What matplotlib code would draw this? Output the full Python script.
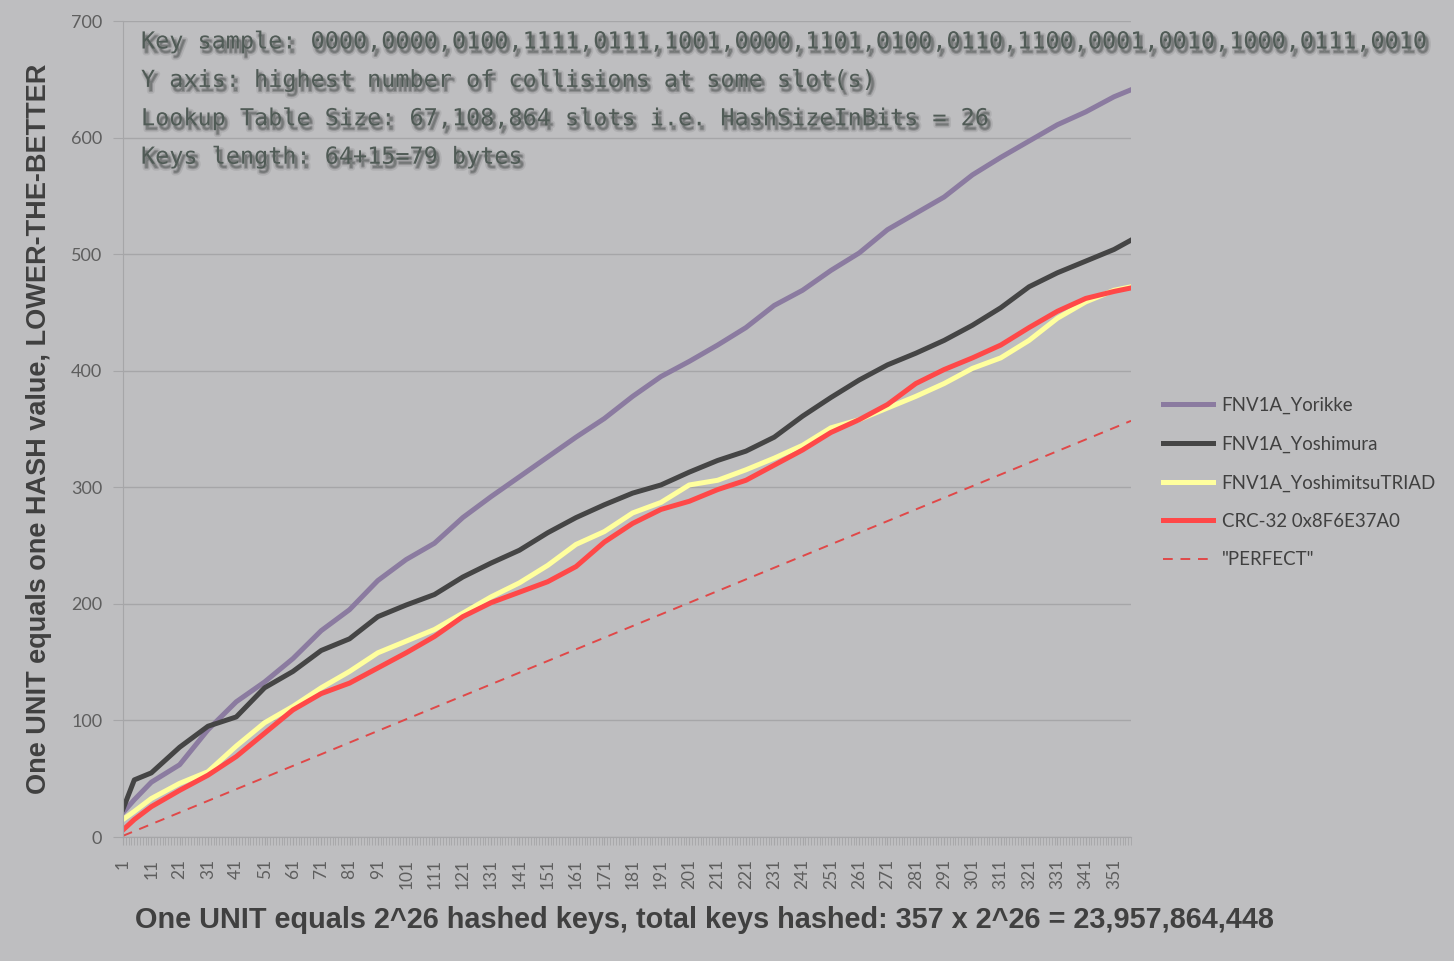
import matplotlib
matplotlib.use("Agg")
import matplotlib.pyplot as plt
import matplotlib.patheffects as pe
from matplotlib.ticker import FixedLocator, MultipleLocator

# sampled categories (every 10th unit plus a couple of extra points)
cats = [1, 5, 11, 21, 31, 41, 51, 61, 71, 81, 91, 101, 111, 121, 131, 141, 151, 161, 171,
        181, 191, 201, 211, 221, 231, 241, 251, 261, 271, 281, 291, 301, 311, 321, 331,
        341, 351, 357]

yorikke = [21, 32, 47, 62, 92, 116, 133, 153, 177, 195, 220, 238, 252, 274, 292, 309, 326,
           343, 359, 378, 395, 408, 422, 437, 456, 469, 486, 501, 521, 535, 549, 568, 583,
           597, 611, 622, 635, 641]
yoshimura = [24, 49, 55, 77, 95, 103, 128, 142, 160, 170, 189, 199, 208, 223, 235, 246, 261,
             274, 285, 295, 302, 313, 323, 331, 343, 361, 377, 392, 405, 415, 426, 439, 454,
             472, 484, 494, 504, 512]
yoshimitsu = [15, 22, 33, 46, 56, 78, 98, 112, 128, 142, 158, 168, 178, 192, 206, 218, 233,
              251, 262, 278, 287, 302, 306, 315, 325, 336, 351, 358, 368, 378, 389, 402, 411,
              426, 445, 459, 469, 472]
crc32 = [6, 15, 26, 40, 53, 69, 89, 109, 123, 132, 145, 158, 172, 189, 201, 210, 219, 232,
         253, 269, 281, 288, 298, 306, 319, 332, 347, 358, 371, 389, 401, 411, 422, 437, 451,
         462, 468, 471]

# "PERFECT": one collision level per unit
perfect_x = [1, 357]
perfect_y = [1, 357]

x_tick_labels = [str(v) for v in range(1, 358, 10)]

notes = [
    "Key sample: 0000,0000,0100,1111,0111,1001,0000,1101,0100,0110,1100,0001,0010,1000,0111,0010",
    "Y axis: highest number of collisions at some slot(s)",
    "Lookup Table Size: 67,108,864 slots i.e. HashSizeInBits = 26",
    "Keys length: 64+15=79 bytes",
]

bg = "#BEBEC0"
grid_c = "#A6A6A8"
tick_c = "#5E5E5E"
title_c = "#404040"

plt.rcParams["font.family"] = ["Lato", "DejaVu Sans"]

fig = plt.figure(figsize=(14.54, 9.61), dpi=100, facecolor=bg)
ax = fig.add_axes([123 / 1454, 1 - 837 / 961, (1131 - 123) / 1454, (837 - 21) / 961])
ax.set_facecolor(bg)

ax.plot(cats, yorikke, color="#8B7BA0", lw=3.6, label="FNV1A_Yorikke", solid_joinstyle="round")
ax.plot(cats, yoshimura, color="#454545", lw=3.6, label="FNV1A_Yoshimura", solid_joinstyle="round")
ax.plot(cats, yoshimitsu, color="#FFFF9E", lw=3.6, label="FNV1A_YoshimitsuTRIAD", solid_joinstyle="round")
ax.plot(cats, crc32, color="#FF4848", lw=3.6, label="CRC-32 0x8F6E37A0", solid_joinstyle="round")
ax.plot(perfect_x, perfect_y, color="#E04848", lw=1.4, ls=(0, (5, 4)), label='"PERFECT"')

ax.set_xlim(1, 357)
ax.set_ylim(0, 700)
ax.yaxis.set_major_locator(MultipleLocator(100))
ax.grid(axis="y", color=grid_c, lw=1)
ax.set_axisbelow(True)

for s in ["top", "right"]:
    ax.spines[s].set_visible(False)
ax.spines["left"].set_color(grid_c)
ax.spines["bottom"].set_color(grid_c)

ax.xaxis.set_major_locator(FixedLocator(list(range(1, 358, 10))))
ax.xaxis.set_minor_locator(MultipleLocator(1))
ax.set_xticklabels(x_tick_labels, rotation=90)
ax.tick_params(axis="x", which="both", length=6, color=grid_c, labelsize=12.5,
               labelcolor=tick_c, pad=10)
ax.tick_params(axis="y", length=7, color=grid_c, labelsize=13, labelcolor=tick_c, pad=8)

ax.set_ylabel("One UNIT equals one HASH value, LOWER-THE-BETTER", fontsize=19.5,
              fontweight="bold", color=title_c, family="Liberation Sans", labelpad=0)
ax.yaxis.set_label_coords((52 - 123) / 1008, 0.5)
fig.text(704 / 1454, 1 - 920 / 961,
         "One UNIT equals 2^26 hashed keys, total keys hashed: 357 x 2^26 = 23,957,864,448",
         ha="center", va="center", fontsize=20.8, fontweight="bold", color=title_c,
         family="Liberation Sans")

# soft drop shadow behind the note lines
shadow = [
    pe.Stroke(linewidth=4, foreground="#707072", alpha=0.18, offset=(2, -3)),
    pe.Stroke(linewidth=1.5, foreground="#5A5A5C", alpha=0.35, offset=(2, -3)),
    pe.Normal(),
]
for i, line in enumerate(notes):
    fig.text(141 / 1454, 1 - (42 + 38.4 * i) / 961, line, ha="left", va="center",
             fontsize=16.9, color="#505B56", family="DejaVu Sans Mono", path_effects=shadow)

fig.legend(loc="upper left", bbox_to_anchor=(1163 / 1454, 1 - 397 / 961), frameon=False,
           fontsize=13.4, labelcolor=title_c, handlelength=2.7, handletextpad=0.45,
           labelspacing=1.15, borderpad=0, borderaxespad=0)

fig.savefig("out.png", dpi=100, facecolor=bg)
